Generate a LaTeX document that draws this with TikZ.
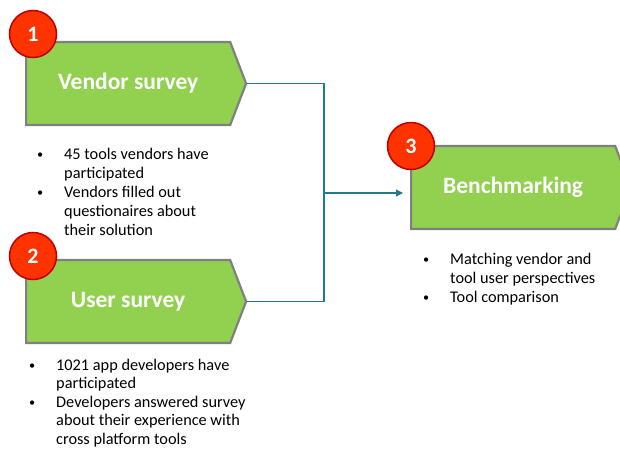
\documentclass[tikz,border=0pt]{standalone}
\usepackage{fontspec}
\setmainfont{Carlito}
\usetikzlibrary{shapes.symbols,arrows.meta}
\definecolor{boxgreen}{HTML}{92D050}
\definecolor{boxgray}{HTML}{808080}
\definecolor{badgered}{HTML}{FF3300}
\definecolor{badgeedge}{HTML}{C00000}
\definecolor{conncol}{HTML}{1F7A8C}
\tikzset{
  stepshape/.style={signal, signal to=east, signal pointer angle=138, fill=boxgreen, draw=boxgray, line width=2.2pt,
    minimum width=220pt, minimum height=83pt, inner sep=0pt, text=white, anchor=west,
    font=\fontsize{23.5}{26}\selectfont\bfseries},
  badge/.style={circle, fill=badgered, draw=badgeedge, line width=1.5pt, minimum size=47pt, inner sep=0pt,
    text=white, font=\fontsize{22}{24}\selectfont\bfseries},
  conn/.style={draw=conncol, line width=1.2pt},
  bullets/.style={anchor=north west, inner sep=0pt, align=left}
}
\newcommand{\bul}{\raisebox{0.05em}{\scalebox{0.75}{\textbullet}}}
\newcommand{\blist}[1]{\begin{tabular}{@{}p{27pt}@{}l@{}}#1\end{tabular}}
\begin{document}
\begin{tikzpicture}[x=1pt,y=-1pt]
\useasboundingbox (0,0) rectangle (620,452);
\node[stepshape] (v) at (25,83.5) {Vendor survey};
\node[stepshape] (u) at (25,301.5) {User survey};
\node[stepshape] (b) at (410,187.5) {Benchmarking};
\node[badge] (c1) at (33,34) {1};
\node[badge] (c2) at (33,256) {2};
\node[badge] (c3) at (411,146) {3};
\coordinate (jn) at (324,193);
\draw[conn] (v.east) -| (jn);
\draw[conn] (u.east) -| (jn);
\draw[conn, -{Triangle[length=7pt,width=7pt]}] (jn) -- ([xshift=-7pt]b.west |- jn);
\node[bullets, font=\fontsize{16.3}{19}\selectfont] (t1) at (37,146) {\blist{%
\bul & 45 tools vendors have\\
 & participated\\
\bul & Vendors filled out\\
 & questionaires about\\
 & their solution}};
\node[bullets, font=\fontsize{16.3}{19}\selectfont] (t3) at (423,251) {\blist{%
\bul & Matching vendor and\\
 & tool user perspectives\\
\bul & Tool comparison}};
\node[bullets, font=\fontsize{16.3}{18.5}\selectfont] (t2) at (29,357) {\blist{%
\bul & 1021 app developers have\\
 & participated\\
\bul & Developers answered survey\\
 & about their experience with\\
 & cross platform tools}};
\end{tikzpicture}
\end{document}
